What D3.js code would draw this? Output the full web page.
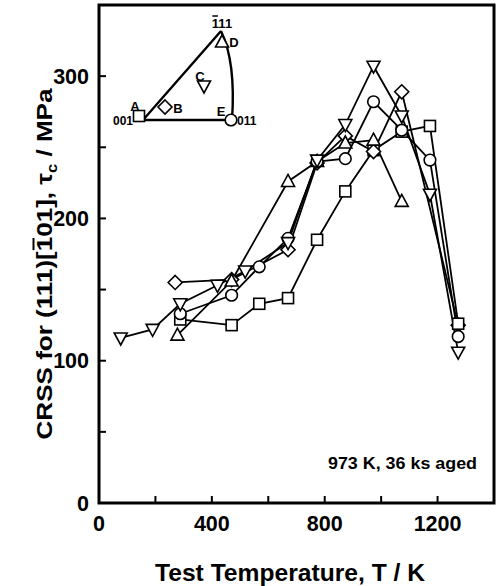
<!DOCTYPE html>
<html><head><meta charset="utf-8">
<script src="https://cdn.jsdelivr.net/npm/d3@7"></script>
<style>
body{margin:0;background:#fff;}
text{font-family:"Liberation Sans",Arial,Helvetica,sans-serif;font-weight:bold;fill:#000;}
</style></head>
<body><svg id="c" width="499" height="586"></svg>
<script>
// ---- data ----
const seriesSquare = [[288,129],[470,125],[568,140],[670,144],[773,185],[873,219],[973,248],[1073,261],[1173,265],[1273,126]];
const seriesCircle = [[288,133],[470,146],[568,166],[670,186],[773,240],[873,242],[973,282],[1073,262],[1173,241],[1273,117]];
const seriesDown   = [[77,116],[190,122],[288,140],[420,153],[518,163],[670,183],[773,241],[873,266],[973,307],[1073,272],[1173,217],[1273,106]];
const seriesUp     = [[278,118],[470,156],[670,226],[773,240],[873,253],[973,255],[1073,212]];
const seriesDiamond= [[270,155],[470,157],[670,178],[773,239],[873,258],[973,247],[1073,289],[1273,125]];
const xTicks = [0,200,400,600,800,1000,1200,1400];
const xLabels = [0,400,800,1200];
const yTicks = [0,50,100,150,200,250,300,350];
const yLabels = [0,100,200,300];

const svg = d3.select("#c");
const x = d3.scaleLinear().domain([0,1400]).range([99,494]);
const y = d3.scaleLinear().domain([0,350]).range([503,5]);

// frame
svg.append("rect").attr("x",99).attr("y",5).attr("width",395).attr("height",498)
  .attr("fill","none").attr("stroke","#000").attr("stroke-width",3);

// ticks (inward)
svg.append("g").selectAll("line").data(yTicks.filter(d=>d>0&&d<350)).join("line")
  .attr("x1",99).attr("x2",106).attr("y1",d=>y(d)).attr("y2",d=>y(d))
  .attr("stroke","#000").attr("stroke-width",2);
svg.append("g").selectAll("line").data(xTicks.filter(d=>d>0&&d<1400)).join("line")
  .attr("x1",d=>x(d)).attr("x2",d=>x(d)).attr("y1",503).attr("y2",496)
  .attr("stroke","#000").attr("stroke-width",2);

// tick labels
svg.append("g").selectAll("text").data(yLabels).join("text")
  .attr("x",89).attr("y",d=>y(d)+7.5).attr("text-anchor","end")
  .attr("font-size",21.5).text(d=>d);
svg.append("g").selectAll("text").data(xLabels).join("text")
  .attr("x",d=>x(d)).attr("y",531).attr("text-anchor","middle")
  .attr("font-size",21.5).text(d=>d);

// axis titles
svg.append("text").attr("x",290).attr("y",581).attr("text-anchor","middle")
  .attr("font-size",24).attr("textLength",270).attr("lengthAdjust","spacingAndGlyphs")
  .text("Test Temperature, T / K");

const yl = svg.append("g").attr("transform","translate(52,264) rotate(-90)");
const yls = yl.append("g");
const ylt = yls.append("text").attr("x",0).attr("y",0).attr("text-anchor","middle").attr("font-size",22);
ylt.append("tspan").text("CRSS for (111)[101], τ");
ylt.append("tspan").attr("font-size",14).attr("dy",5).text("c");
ylt.append("tspan").attr("dy",-5).text(" / MPa");
{
  const node = ylt.node();
  const w = node.getBBox().width;
  const k = 352 / w;
  yls.attr("transform",`scale(${k},1)`);
  const idx = "CRSS for (111)[".length;
  const s = node.getStartPositionOfChar(idx), e = node.getEndPositionOfChar(idx);
  yls.append("line").attr("x1",s.x+1).attr("x2",e.x-1).attr("y1",-18.5).attr("y2",-18.5)
    .attr("stroke","#000").attr("stroke-width",2);
}

// note
svg.append("text").attr("x",477).attr("y",469).attr("text-anchor","end")
  .attr("font-size",17).attr("textLength",149).attr("lengthAdjust","spacingAndGlyphs")
  .text("973 K, 36 ks aged");

// marker generator
function drawMarker(g, type, cx, cy){
  let el;
  if(type==="square"){
    el = g.append("rect").attr("x",cx-5.5).attr("y",cy-5.5).attr("width",11).attr("height",11);
  } else if(type==="circle"){
    el = g.append("circle").attr("cx",cx).attr("cy",cy).attr("r",5.8);
  } else if(type==="down"){
    el = g.append("path").attr("d",`M${cx-6.5},${cy-5}L${cx+6.5},${cy-5}L${cx},${cy+7}Z`);
  } else if(type==="up"){
    el = g.append("path").attr("d",`M${cx-6.5},${cy+5}L${cx+6.5},${cy+5}L${cx},${cy-7}Z`);
  } else if(type==="diamond"){
    el = g.append("path").attr("d",`M${cx},${cy-7}L${cx+7},${cy}L${cx},${cy+7}L${cx-7},${cy}Z`);
  }
  el.attr("fill","#fff").attr("stroke","#000").attr("stroke-width",1.6);
}

const allSeries = [
  {data:seriesSquare, type:"square", z:1},
  {data:seriesDiamond, type:"diamond", z:2},
  {data:seriesUp, type:"up", z:3},
  {data:seriesCircle, type:"circle", z:4},
  {data:seriesDown, type:"down", z:5}
];
const line = d3.line().x(d=>x(d[0])).y(d=>y(d[1]));
const gl = svg.append("g");
allSeries.forEach(s=>{
  gl.append("path").attr("d",line(s.data)).attr("fill","none")
    .attr("stroke","#000").attr("stroke-width",1.8);
});
// markers, layered (the last diamond lies under the squares at 1273 K)
const marks = [];
allSeries.forEach(s=>s.data.forEach((d,i)=>{
  const z = (s.type==="diamond" && i===s.data.length-1) ? 0 : s.z;
  marks.push({type:s.type, d, z});
}));
marks.sort((a,b)=>a.z-b.z);
const gm = svg.append("g");
marks.forEach(m=>drawMarker(gm, m.type, x(m.d[0]), y(m.d[1])));

// ---- inset: stereographic triangle ----
const inset = svg.append("g");
const p001=[143,120], p011=[232,120], p111=[221,31];
inset.append("path").attr("d",`M${p111[0]},${p111[1]}L${p001[0]},${p001[1]}L${p011[0]},${p011[1]}Q${236},${62} ${p111[0]},${p111[1]}`)
  .attr("fill","none").attr("stroke","#000").attr("stroke-width",2.4);
drawMarker(inset,"square",139,116);
drawMarker(inset,"diamond",165,107);
drawMarker(inset,"down",204,86);
drawMarker(inset,"up",222,42);
drawMarker(inset,"circle",231,120);
const lab = (t,xx,yy,anchor,fs)=>inset.append("text").attr("x",xx).attr("y",yy)
  .attr("text-anchor",anchor||"middle").attr("font-size",fs||13).text(t);
lab("A",135,111);
lab("B",178,113);
lab("C",200,81);
lab("D",234,47);
lab("E",221,116);
lab("001",133,125,"end",12);
lab("011",237,125,"start",12);
const t111 = lab("111",222,28,"middle",13);
{
  const n=t111.node();
  const s=n.getStartPositionOfChar(0), e=n.getEndPositionOfChar(0);
  inset.append("line").attr("x1",s.x+0.5).attr("x2",e.x-0.5).attr("y1",16).attr("y2",16)
    .attr("stroke","#000").attr("stroke-width",1.5);
}
</script></body></html>
